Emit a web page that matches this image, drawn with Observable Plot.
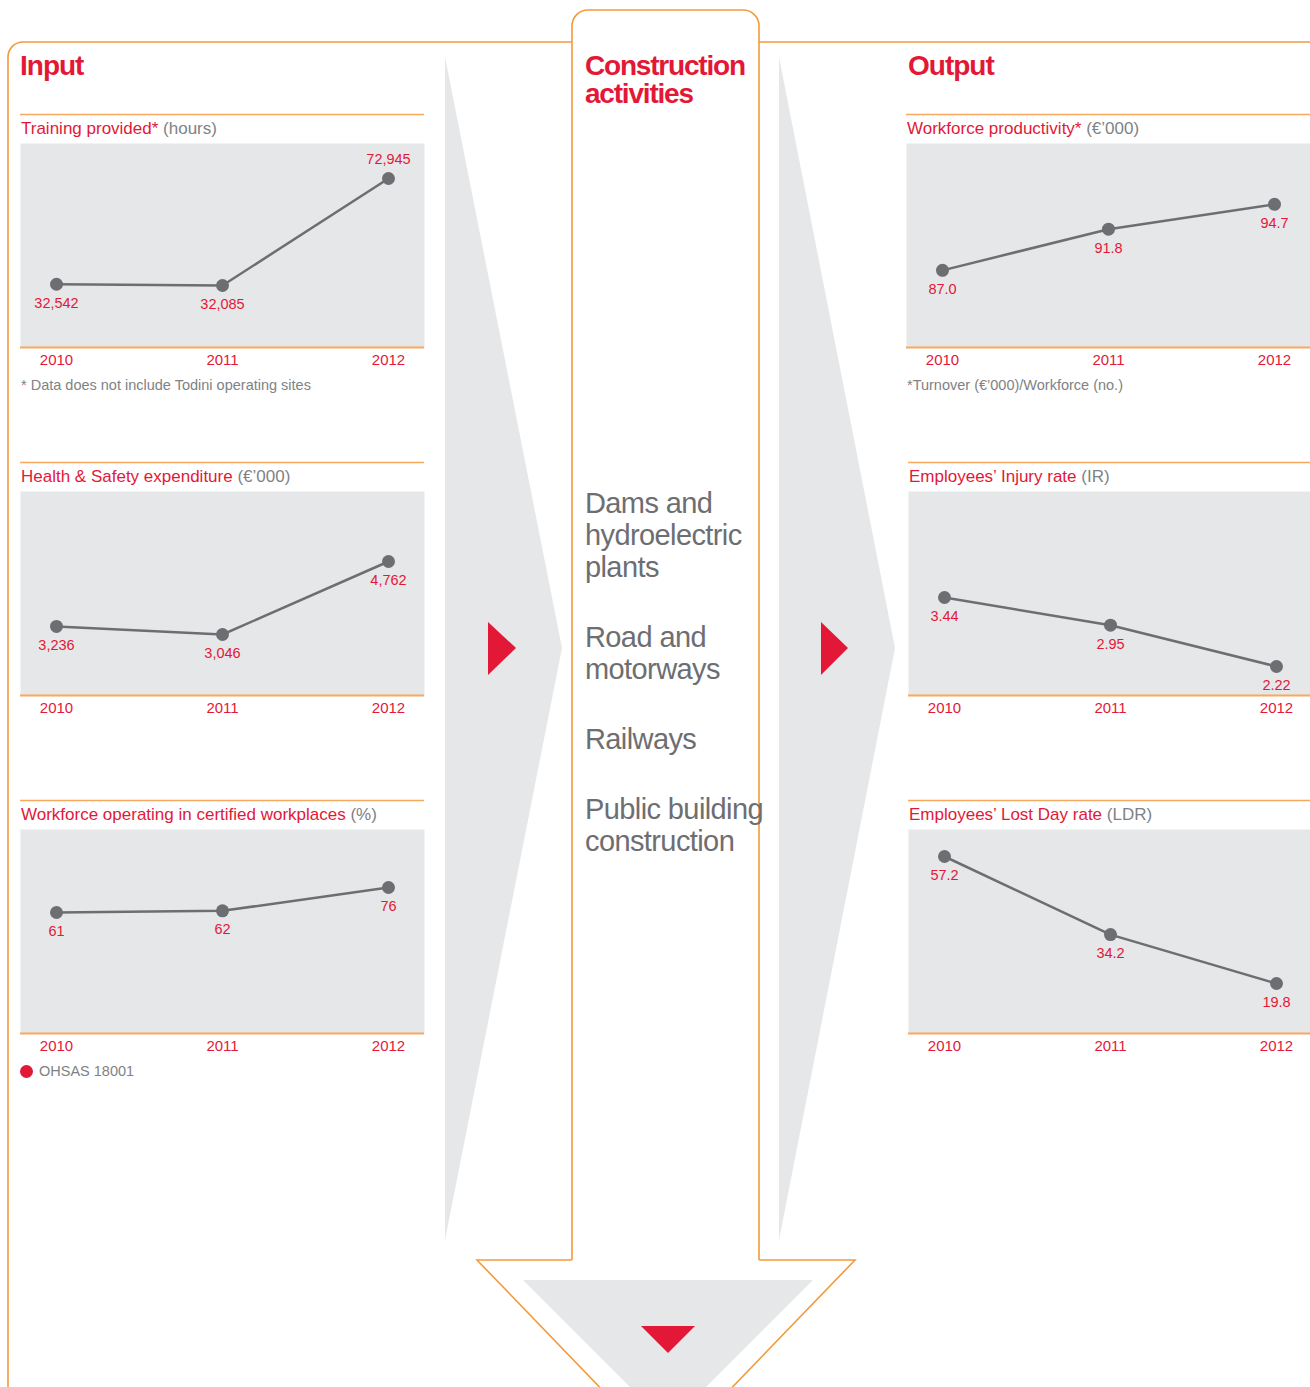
<!DOCTYPE html>
<html>
<head>
<meta charset="utf-8">
<script src="https://cdn.jsdelivr.net/npm/d3@7"></script>
<script src="https://cdn.jsdelivr.net/npm/@observablehq/plot@0.6"></script>
<style>
  html, body { margin: 0; padding: 0; background: #ffffff; }
  #page { position: relative; width: 1310px; height: 1387px; overflow: hidden;
          font-family: "Liberation Sans", Arial, Helvetica, sans-serif; }
  .abs { position: absolute; white-space: nowrap; }
  .head { font-weight: bold; font-size: 28px; line-height: 30px; letter-spacing: -1px; color: #e31837; }
  .ctitle { font-size: 17px; line-height: 20px; color: #e31837; }
  .ctitle .u { color: #808285; }
  .note { font-size: 14.5px; line-height: 18px; color: #808285; }
  .act { font-size: 29px; line-height: 32px; letter-spacing: -0.6px; color: #6d6e71; }
  .act div { margin-bottom: 38px; }
</style>
</head>
<body>
<div id="page"></div>
<script>
// ---------------- data ----------------
const years = [2010, 2011, 2012];
const trainingHours = [32542, 32085, 72945];
const hsExpenditure = [3236, 3046, 4762];
const certifiedWorkforce = [61, 62, 76];
const productivity = [87.0, 91.8, 94.7];
const injuryRate = [3.44, 2.95, 2.22];
const lostDayRate = [57.2, 34.2, 19.8];
const activities = [
  ["Dams and", "hydroelectric", "plants"],
  ["Road and", "motorways"],
  ["Railways"],
  ["Public building", "construction"]
];

// ---------------- styles ----------------
const RED = "#e31837";
const DARK = "#6d6e71";
const PANEL = "#e6e7e8";
const ORANGE = "#f39a3c";
const ORANGE_RULE = "#f7aa5e";
const FONT = '"Liberation Sans", Arial, Helvetica, sans-serif';

const charts = [
  {title: "Training provided*", unit: "(hours)", values: trainingHours, fmt: d3.format(","),
   domain: [8400, 86300], left: 20, top: 143, ruleX: [20, 424], above: [2012],
   note: "* Data does not include Todini operating sites"},
  {title: "Health & Safety expenditure", unit: "(€’000)", values: hsExpenditure, fmt: d3.format(","),
   domain: [1612, 6407], left: 20, top: 491, ruleX: [20, 424], above: []},
  {title: "Workforce operating in certified workplaces", unit: "(%)", values: certifiedWorkforce, fmt: d3.format("d"),
   domain: [-11.6, 110.8], left: 20, top: 829, ruleX: [20, 424], above: [], legend: "OHSAS 18001"},
  {title: "Workforce productivity*", unit: "(€’000)", values: productivity, fmt: d3.format(".1f"),
   domain: [78.0, 101.8], left: 906, top: 143, ruleX: [906, 1310], above: [],
   note: "*Turnover (€’000)/Workforce (no.)"},
  {title: "Employees’ Injury rate", unit: "(IR)", values: injuryRate, fmt: d3.format(".2f"),
   domain: [1.707, 5.314], left: 908, top: 491, ruleX: [908, 1310], above: []},
  {title: "Employees’ Lost Day rate", unit: "(LDR)", values: lostDayRate, fmt: d3.format(".1f"),
   domain: [5.08, 65.15], left: 908, top: 829, ruleX: [908, 1310], above: []}
];

const page = document.getElementById("page");

// ---------------- decorative background ----------------
const svg = d3.select(page).append("svg")
  .attr("width", 1310).attr("height", 1387)
  .style("position", "absolute").style("left", "0px").style("top", "0px");

svg.append("path").attr("d", "M445,57 L562,648 L445,1240 Z").attr("fill", PANEL);
svg.append("path").attr("d", "M779,57 L895,648 L779,1240 Z").attr("fill", PANEL);
svg.append("path").attr("d", "M488,622 L516,648 L488,675 Z").attr("fill", RED);
svg.append("path").attr("d", "M821,622 L848,648 L821,675 Z").attr("fill", RED);
svg.append("path").attr("d", "M523,1280 H813 L668,1425 Z").attr("fill", PANEL);
svg.append("path").attr("d", "M641,1326 H695 L668,1353 Z").attr("fill", RED);

const outline = [
  "M8,1400 V57 A15,15 0 0 1 23,42 H572",
  "M572,1260 V26 A16,16 0 0 1 588,10 H743 A16,16 0 0 1 759,26 V1260",
  "M759,42 H1312",
  "M572,1260 H477 L666,1456",
  "M759,1260 H855 L666,1456"
];
outline.forEach(d => svg.append("path").attr("d", d).attr("fill", "none")
  .attr("stroke", ORANGE).attr("stroke-width", 1.6));

charts.forEach(c => {
  svg.append("line").attr("x1", c.ruleX[0]).attr("x2", c.ruleX[1])
    .attr("y1", c.top - 28.5).attr("y2", c.top - 28.5)
    .attr("stroke", ORANGE_RULE).attr("stroke-width", 1.6);
});

// ---------------- text helper ----------------
function addDiv(cls, html, left, top) {
  const d = document.createElement("div");
  d.className = "abs " + cls;
  d.innerHTML = html;
  d.style.left = left + "px";
  d.style.top = top + "px";
  page.appendChild(d);
  return d;
}

// ---------------- charts ----------------
charts.forEach(c => {
  const data = years.map((y, i) => ({year: y, value: c.values[i]}));
  const chart = Plot.plot({
    width: 404,
    height: 230,
    marginTop: 0,
    marginBottom: 26,
    marginLeft: 0,
    marginRight: 0,
    style: {fontFamily: FONT, fontSize: "14px", background: "none", overflow: "visible"},
    x: {type: "point", domain: years, padding: 0, insetLeft: 36, insetRight: 36, label: null},
    y: {domain: c.domain, axis: null},
    marks: [
      Plot.frame({fill: PANEL, stroke: "none"}),
      Plot.ruleY([c.domain[0]], {stroke: ORANGE_RULE, strokeWidth: 2}),
      Plot.axisX({tickSize: 0, tickPadding: 7, fontSize: 15, color: RED, label: null, tickFormat: d => String(d)}),
      Plot.line(data, {x: "year", y: "value", stroke: DARK, strokeWidth: 2.5}),
      Plot.dot(data, {x: "year", y: "value", r: 6.5, fill: DARK}),
      Plot.text(data.filter(d => !c.above.includes(d.year)),
        {x: "year", y: "value", text: d => c.fmt(d.value), dy: 19, fill: RED, fontSize: 14.5, lineAnchor: "middle"}),
      Plot.text(data.filter(d => c.above.includes(d.year)),
        {x: "year", y: "value", text: d => c.fmt(d.value), dy: -19, fill: RED, fontSize: 14.5, lineAnchor: "middle"})
    ]
  });
  chart.style.position = "absolute";
  chart.style.left = c.left + "px";
  chart.style.top = c.top + "px";
  page.appendChild(chart);

  addDiv("ctitle", c.title + ' <span class="u">' + c.unit + '</span>', c.left + 1, c.top - 24.5);
  if (c.note) addDiv("note", c.note, c.left + 1, c.top + 233);
  if (c.legend) {
    addDiv("note", '<span style="display:inline-block;width:13px;height:13px;border-radius:50%;background:' + RED +
      ';vertical-align:-2px;margin-right:6px"></span>' + c.legend, c.left, c.top + 233);
  }
});

// ---------------- headings ----------------
addDiv("head", "Input", 20, 51);
addDiv("head", "Output", 908, 51);
const ca = addDiv("head", "Construction<br>activities", 585, 52);
ca.style.lineHeight = "28px";
ca.style.letterSpacing = "-1.2px";

// ---------------- construction activities ----------------
addDiv("act", activities.map(g => "<div>" + g.join("<br>") + "</div>").join(""), 585, 487);
</script>
</body>
</html>
